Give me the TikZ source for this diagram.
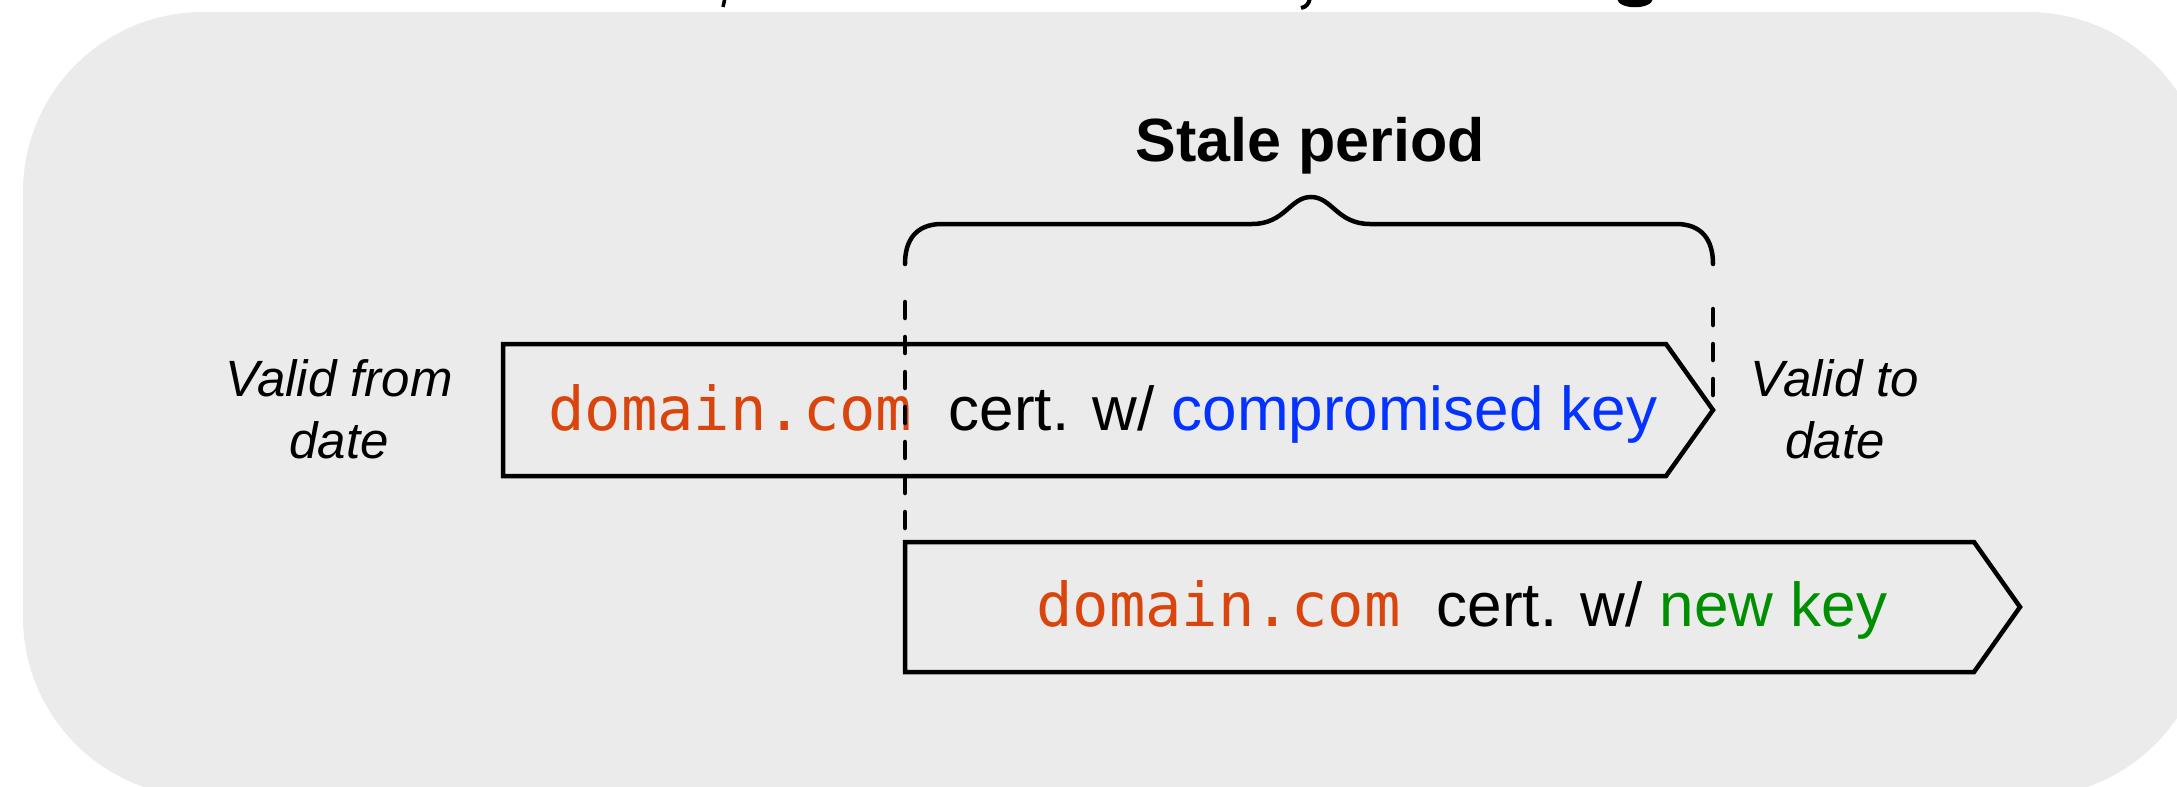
\documentclass[tikz,border=0pt]{standalone}
\usepackage{fontspec}
\setmainfont{Liberation Sans}
\newfontfamily\monofont{DejaVu Sans Mono}
\definecolor{bgc}{RGB}{235,235,235}
\definecolor{dom}{RGB}{217,69,13}
\definecolor{kblue}{RGB}{4,51,255}
\definecolor{kgreen}{RGB}{0,143,0}
\begin{document}
\begin{tikzpicture}[x=1pt,y=-1pt,
  outline/.style={line width=4.5pt, line join=miter},
  dashline/.style={line width=4.5pt, line cap=round, dash pattern=on 16pt off 19pt},
  brace/.style={line width=4.5pt, line cap=round},
  lbl/.style={inner sep=0pt, anchor=base, font=\fontsize{51}{62}\selectfont\itshape},
  celltext/.style={inner sep=0pt, anchor=base west, font=\fontsize{62}{70}\selectfont}]
\useasboundingbox (0,0) rectangle (2177,787);
\clip (0,0) rectangle (2177,787);
% background panel
\fill[bgc, rounded corners=180pt] (23,12) rectangle (2208,797);
% cut-off title fragments
\draw[line width=3.5pt] (725,-2) -- (723,7);
\draw[line width=4pt] (1310,-2) .. controls (1309,4) and (1306,7) .. (1301,8);
\fill (1617,-1) .. controls (1619,10) and (1651,10) .. (1653,-1) -- cycle;
% certificate 1
\coordinate (c1a) at (503,344);
\coordinate (c1b) at (1666,344);
\coordinate (c1tip) at (1713,410);
\coordinate (c1c) at (1666,476);
\coordinate (c1d) at (503,476);
\draw[outline] (c1a) -- (c1b) -- (c1tip) -- (c1c) -- (c1d) -- cycle;
% certificate 2
\coordinate (c2a) at (905,542);
\coordinate (c2b) at (1974,542);
\coordinate (c2tip) at (2020,607);
\coordinate (c2c) at (1974,672);
\coordinate (c2d) at (905,672);
\draw[outline] (c2a) -- (c2b) -- (c2tip) -- (c2c) -- (c2d) -- cycle;
% texts
\node[celltext] (t1) at (548,430) {{\monofont\fontsize{60.5}{70}\selectfont\color{dom}domain.com }cert. w/ \textcolor{kblue}{compromised key}};
\node[celltext] (t2) at (1036,626) {{\monofont\fontsize{60.5}{70}\selectfont\color{dom}domain.com }cert. w/ \textcolor{kgreen}{new key}};
\node[inner sep=0pt, anchor=base, font=\fontsize{61}{70}\selectfont\bfseries] (stale) at (1310,161) {Stale period};
\node[lbl] (vfrom) at (339,396) {\begin{tabular}[t]{@{}c@{}}Valid from\\date\end{tabular}};
\node[lbl] (vto) at (1835,396) {\begin{tabular}[t]{@{}c@{}}Valid to\\date\end{tabular}};
% brace
\coordinate (bl) at (905,264);
\coordinate (br) at (1713,264);
\draw[brace] (bl) .. controls (905,240) and (916,224) .. (942,224) -- (1252,224)
  .. controls (1285,224) and (1290,197) .. (1311,197)
  .. controls (1332,197) and (1337,224) .. (1370,224) -- (1676,224)
  .. controls (1702,224) and (br |- 0,240) .. (br);
% dashed guides
\coordinate (dl1) at (905,302);
\coordinate (dl2) at (905,528);
\coordinate (dr1) at (1713,309);
\coordinate (dr2) at (1713,395);
\draw[dashline] (dl1) -- (dl2);
\draw[dashline] (dr1) -- (dr2);
\end{tikzpicture}
\end{document}
